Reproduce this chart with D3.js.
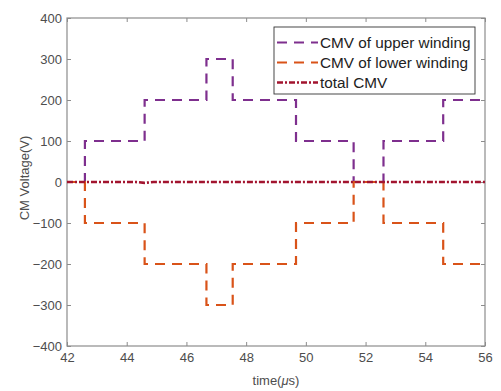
<!DOCTYPE html>
<html>
<head>
<meta charset="utf-8">
<script src="https://cdn.jsdelivr.net/npm/d3@7"></script>
<style>
  body { margin: 0; background: #fff; }
  svg { display: block; font-family: "Liberation Sans", Arial, sans-serif; }
</style>
</head>
<body>
<svg id="chart" width="501" height="391"></svg>
<script>
// Step breakpoints (time in µs) and the levels held after each one
const upperTimes  = [42, 42.6, 44.6, 46.67, 47.55, 49.67, 51.6, 52.6, 54.6, 56];
const upperValues = [0, 100, 200, 300, 200, 100, 0, 100, 200, 200];
const lowerTimes  = [42, 42.6, 44.6, 46.67, 47.55, 49.67, 51.6, 52.6, 54.6, 56];
const lowerValues = [0, -100, -200, -300, -200, -100, 0, -100, -200, -200];
const totalTimes  = [42, 42.6, 44.3, 44.6, 44.9, 51.6, 52.6, 54.6, 56];
const totalValues = [0, 0, 0, -2, 0, 0, 0, 0, 0];

const xTicks = [42, 44, 46, 48, 50, 52, 54, 56];
const yTicks = [-400, -300, -200, -100, 0, 100, 200, 300, 400];

const seriesNames = ["CMV of upper winding", "CMV of lower winding", "total CMV"];
const seriesColors = ["#7E2F8E", "#D95319", "#A2142F"];

const svg = d3.select("#chart");
const m = { left: 67, right: 16, top: 18, bottom: 45 };
const W = 501, H = 391;
const x = d3.scaleLinear().domain([42, 56]).range([m.left, W - m.right]);
const y = d3.scaleLinear().domain([-400, 400]).range([H - m.bottom, m.top]);

const axisColor = "#8c8c8c";
const textColor = "#4d4d4d";

function styleAxis(g, hideText) {
  g.select(".domain").remove();
  g.selectAll(".tick line").attr("stroke", axisColor);
  g.selectAll(".tick text")
    .attr("fill", textColor)
    .style("font-size", "13px")
    .style("display", hideText ? "none" : null);
}

svg.append("g").attr("transform", `translate(0,${y(-400)})`)
  .call(d3.axisBottom(x).tickValues(xTicks).tickSize(-4).tickPadding(7).tickFormat(d3.format("d")))
  .call(g => styleAxis(g, false));
svg.append("g").attr("transform", `translate(0,${y(400)})`)
  .call(d3.axisTop(x).tickValues(xTicks).tickSize(-4))
  .call(g => styleAxis(g, true));
svg.append("g").attr("transform", `translate(${x(42)},0)`)
  .call(d3.axisLeft(y).tickValues(yTicks).tickSize(-4).tickPadding(5).tickFormat(d3.format("d")))
  .call(g => styleAxis(g, false));
svg.append("g").attr("transform", `translate(${x(56)},0)`)
  .call(d3.axisRight(y).tickValues(yTicks).tickSize(-4))
  .call(g => styleAxis(g, true));

svg.append("rect")
  .attr("x", x(42)).attr("y", y(400))
  .attr("width", x(56) - x(42)).attr("height", y(-400) - y(400))
  .attr("fill", "none").attr("stroke", axisColor).attr("stroke-width", 1.2);

const step = d3.line().x(d => x(d[0])).y(d => y(d[1])).curve(d3.curveStepAfter);
const plain = d3.line().x(d => x(d[0])).y(d => y(d[1]));

const plot = svg.append("g");
plot.append("path")
  .datum(upperTimes.map((t, i) => [t, upperValues[i]]))
  .attr("d", step).attr("fill", "none")
  .attr("stroke", seriesColors[0]).attr("stroke-width", 2.2)
  .attr("stroke-dasharray", "10,7");
plot.append("path")
  .datum(lowerTimes.map((t, i) => [t, lowerValues[i]]))
  .attr("d", step).attr("fill", "none")
  .attr("stroke", seriesColors[1]).attr("stroke-width", 2.2)
  .attr("stroke-dasharray", "10,7");
plot.append("path")
  .datum(totalTimes.map((t, i) => [t, totalValues[i]]))
  .attr("d", plain).attr("fill", "none")
  .attr("stroke", seriesColors[2]).attr("stroke-width", 2.6)
  .attr("stroke-dasharray", "6,2,2,2");

// legend
const lg = svg.append("g").attr("transform", "translate(274,27)");
lg.append("rect").attr("width", 201).attr("height", 67)
  .attr("fill", "#fff").attr("stroke", "#333").attr("stroke-width", 0.9);
const dashes = ["10,7", "10,7", "6,2,2,2"];
seriesNames.forEach((name, i) => {
  const yy = 15.5 + i * 20;
  lg.append("line").attr("x1", 3).attr("x2", 44).attr("y1", yy).attr("y2", yy)
    .attr("stroke", seriesColors[i]).attr("stroke-width", i === 2 ? 2.6 : 2.2)
    .attr("stroke-dasharray", dashes[i]);
  lg.append("text").attr("x", 46).attr("y", yy).attr("dy", "0.36em")
    .attr("fill", "#222").style("font-size", "15.3px").text(name);
});

// axis titles
svg.append("text")
  .attr("transform", "translate(29,178) rotate(-90)")
  .attr("text-anchor", "middle").attr("fill", textColor)
  .style("font-size", "13px").text("CM Voltage(V)");
const xt = svg.append("text")
  .attr("x", x(49)).attr("y", 385)
  .attr("text-anchor", "middle").attr("fill", textColor)
  .style("font-size", "13px");
xt.append("tspan").text("time(");
xt.append("tspan").style("font-style", "italic").text("μ");
xt.append("tspan").text("s)");
</script>
</body>
</html>
